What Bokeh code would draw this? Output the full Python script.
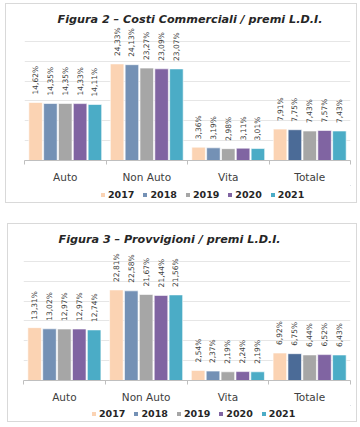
import math
from bokeh.plotting import figure
from bokeh.models import (ColumnDataSource, Range1d, FixedTicker, Legend, LegendItem,
                          LinearAxis, Grid)
from bokeh.transform import dodge
from bokeh.layouts import column
from bokeh.core.properties import value
from bokeh.embed import file_html
from bokeh.resources import INLINE

categories = ["Auto", "Non Auto", "Vita", "Totale"]
years = ["2017", "2018", "2019", "2020", "2021"]

fig2_title = "Figura 2 \u2013 Costi Commerciali / premi L.D.I."
fig2_values = {
    "2017": [14.62, 24.33, 3.36, 7.91],
    "2018": [14.35, 24.13, 3.19, 7.75],
    "2019": [14.35, 23.27, 2.98, 7.43],
    "2020": [14.33, 23.09, 3.11, 7.57],
    "2021": [14.11, 23.07, 3.01, 7.43],
}

fig3_title = "Figura 3 \u2013 Provvigioni / premi L.D.I."
fig3_values = {
    "2017": [13.31, 22.81, 2.54, 6.92],
    "2018": [13.02, 22.58, 2.37, 6.75],
    "2019": [12.97, 21.67, 2.19, 6.44],
    "2020": [12.97, 21.44, 2.24, 6.52],
    "2021": [12.74, 21.56, 2.19, 6.43],
}

colors = {
    "2017": ["#fbd3b3"] * 4,
    "2018": ["#7491b5", "#7491b5", "#7491b5", "#4b6b97"],
    "2019": ["#a6a6a6"] * 4,
    "2020": ["#8064a2"] * 4,
    "2021": ["#4bacc6"] * 4,
}

FONT = "DejaVu Sans"
TXT = "#404040"


def make_chart(title, vals, width, height, mb_left, mb_right, mb_top, mb_bottom, t_off):
    p = figure(width=width, height=height, output_backend="svg", toolbar_location=None,
               x_range=Range1d(0, 4), y_range=Range1d(0, 33.75),
               min_border_left=mb_left, min_border_right=mb_right,
               min_border_top=mb_top, min_border_bottom=mb_bottom,
               x_axis_type=None, y_axis_type=None)
    p.outline_line_color = None
    p.background_fill_color = "white"
    p.border_fill_color = "white"

    p.title.text = title
    p.title.align = "left"
    p.title.offset = t_off
    p.title.text_font = FONT
    p.title.text_font_style = "bold italic"
    p.title.text_font_size = "11.2px"
    p.title.text_color = "#262626"
    p.title.standoff = 1

    xaxis = LinearAxis(ticker=FixedTicker(ticks=[i + 0.5 for i in range(len(categories))],
                                          minor_ticks=list(range(len(categories) + 1))))
    xaxis.major_label_overrides = {i + 0.5: c for i, c in enumerate(categories)}
    xaxis.major_tick_line_color = None
    xaxis.minor_tick_line_color = "#bfbfbf"
    xaxis.minor_tick_out = 4
    xaxis.minor_tick_in = 0
    xaxis.axis_line_color = "#bfbfbf"
    xaxis.major_label_text_font = FONT
    xaxis.major_label_text_font_size = "10.5px"
    xaxis.major_label_text_color = TXT
    xaxis.major_label_standoff = 4
    p.add_layout(xaxis, "below")

    grid = Grid(dimension=1, ticker=FixedTicker(ticks=[5, 10, 15, 20, 25, 30]),
                grid_line_color="#e6e6e6")
    p.add_layout(grid)

    step = 0.182
    for k, y in enumerate(years):
        off = (k - 2) * step
        src = ColumnDataSource(dict(
            x=[i + 0.5 for i in range(len(categories))],
            v=vals[y],
            c=colors[y],
            lab=[f"{v:.2f}".replace(".", ",") + "%" for v in vals[y]],
        ))
        p.vbar(x=dodge("x", off), top="v", width=0.166, bottom=0, source=src,
               fill_color="c", line_color="white", line_alpha=0.6, line_width=1)
        p.text(x=dodge("x", off), y="v", text="lab", source=src, angle=math.pi / 2,
               text_align="left", text_baseline="middle", y_offset=-8,
               text_font=value(FONT), text_font_size="7.5px", text_color=TXT)
    return p


def make_legend(width, height, left):
    q = figure(width=width, height=height, output_backend="svg", toolbar_location=None,
               x_range=Range1d(0, 1), y_range=Range1d(0, 1),
               min_border_left=0, min_border_right=0, min_border_top=0,
               min_border_bottom=0, x_axis_type=None, y_axis_type=None)
    q.outline_line_color = None
    q.xgrid.visible = False
    q.ygrid.visible = False
    q.border_fill_color = "white"
    items = []
    for y in years:
        # placed off-range so only the legend swatch shows
        r = q.vbar(x=[5], top=[5], bottom=[4], width=0.1, fill_color=colors[y][0],
                   line_color=None)
        items.append(LegendItem(label=y, renderers=[r]))
    legend = Legend(items=items, orientation="horizontal", location=(left, (height - 12) // 2),
                    glyph_width=5, glyph_height=5, label_standoff=3, spacing=8,
                    padding=0, margin=0, border_line_color=None,
                    background_fill_alpha=0, label_height=12,
                    label_text_font=FONT, label_text_font_style="bold",
                    label_text_font_size="9.5px", label_text_color="#262626")
    q.add_layout(legend)
    return q


p1 = make_chart(fig2_title, fig2_values, 350, 181, 18, 6, 22, 24, 33)
l1 = make_legend(350, 17, 76)
p2 = make_chart(fig3_title, fig3_values, 348, 181, 15, 6, 22, 24, 35)
l2 = make_legend(348, 16, 68)

box1 = column(p1, l1, spacing=0,
              styles={"border": "1px solid #d9d9d9", "margin-left": "5px", "margin-top": "3px"})
box2 = column(p2, l2, spacing=0,
              styles={"border": "1px solid #d9d9d9", "margin-left": "7px"})
layout = column(box1, box2, spacing=20)
open("out.html", "w").write(file_html(layout, INLINE))
